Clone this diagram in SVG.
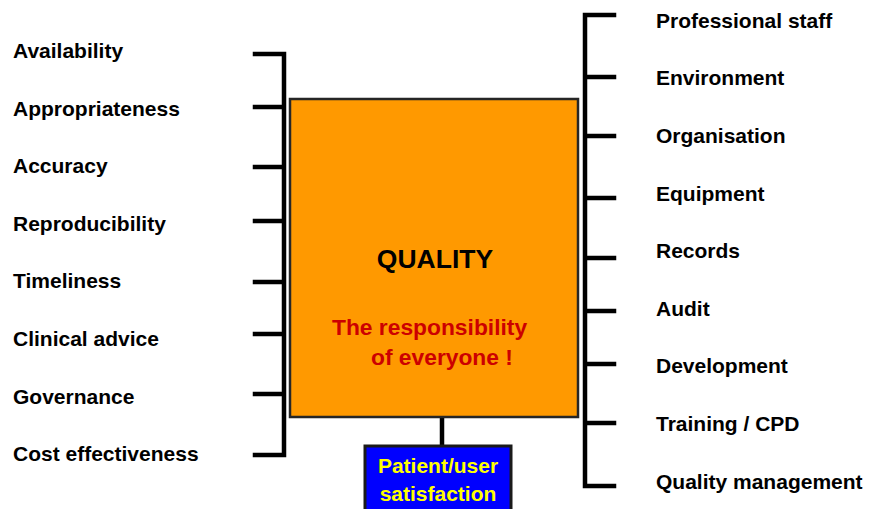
<svg xmlns="http://www.w3.org/2000/svg" width="870" height="509" viewBox="0 0 870 509">
<style>
.ln{stroke:#000;stroke-width:4.5;fill:none;stroke-linecap:square}
.lbl{font-family:"Liberation Sans",Arial,sans-serif;font-weight:bold;font-size:21px;fill:#000}
.red{font-family:"Liberation Sans",Arial,sans-serif;font-weight:bold;font-size:22.8px;fill:#CC0000}
.yel{font-family:"Liberation Sans",Arial,sans-serif;font-weight:bold;font-size:21px;fill:#FFFF00}
</style>
<rect width="870" height="509" fill="#fff"/>
<g id="connectors">
<path class="ln" d="M255 54H284V455H255M284 107H255M284 167H255M284 221H255M284 282H255M284 334H255M284 394H255"/>
<path class="ln" d="M614 15H585V486H614M585 77H614M585 136H614M585 198H614M585 258H614M585 311H614M585 364H614M585 423H614"/>
<path class="ln" d="M442 418V445"/>
</g>
<g id="quality">
<rect x="290" y="99" width="288" height="318" fill="#FF9900" stroke="#262626" stroke-width="2.5"/>
<text x="435" y="268" text-anchor="middle" style="font-family:'Liberation Sans',Arial,sans-serif;font-weight:bold;font-size:26.5px;fill:#000">QUALITY</text>
<text class="red" x="332" y="335">The responsibility</text>
<text class="red" x="371" y="365">of everyone !</text>
</g>
<g id="satisfaction">
<rect x="365" y="446" width="146" height="70" fill="#0000FF" stroke="#1a1a1a" stroke-width="3"/>
<text class="yel" x="438" y="473" text-anchor="middle">Patient/user</text>
<text class="yel" x="438" y="501" text-anchor="middle">satisfaction</text>
</g>
<g id="left-labels">
<text class="lbl" x="13" y="58">Availability</text>
<text class="lbl" x="13" y="116">Appropriateness</text>
<text class="lbl" x="13" y="173">Accuracy</text>
<text class="lbl" x="13" y="231">Reproducibility</text>
<text class="lbl" x="13" y="288">Timeliness</text>
<text class="lbl" x="13" y="346">Clinical advice</text>
<text class="lbl" x="13" y="404">Governance</text>
<text class="lbl" x="13" y="461">Cost effectiveness</text>
</g>
<g id="right-labels">
<text class="lbl" x="656" y="28">Professional staff</text>
<text class="lbl" x="656" y="85">Environment</text>
<text class="lbl" x="656" y="143">Organisation</text>
<text class="lbl" x="656" y="201">Equipment</text>
<text class="lbl" x="656" y="258">Records</text>
<text class="lbl" x="656" y="316">Audit</text>
<text class="lbl" x="656" y="373">Development</text>
<text class="lbl" x="656" y="431">Training / CPD</text>
<text class="lbl" x="656" y="489">Quality management</text>
</g>
</svg>
